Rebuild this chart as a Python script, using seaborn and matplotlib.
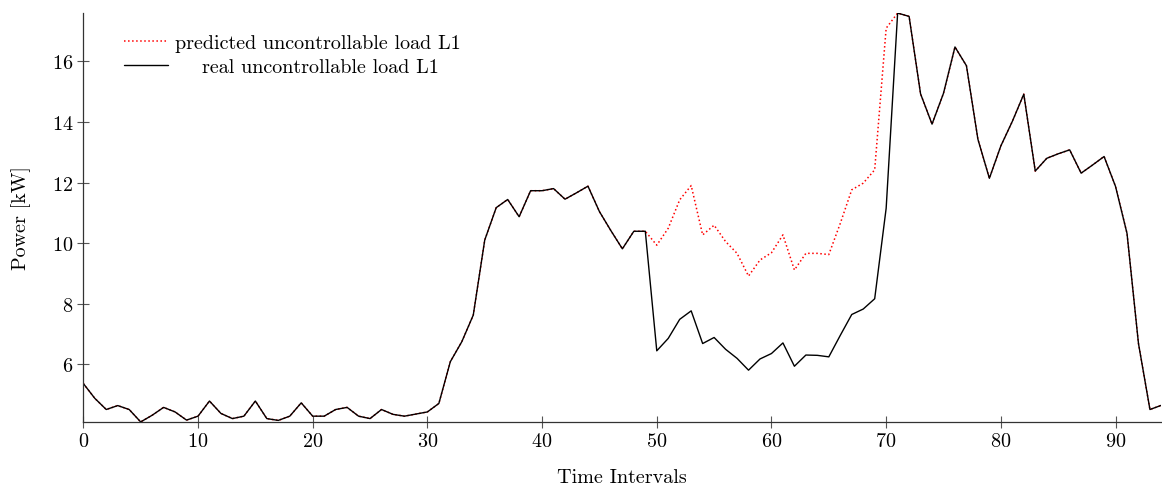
import numpy as np
import pandas as pd
import matplotlib
matplotlib.use("Agg")
import matplotlib.pyplot as plt
import seaborn as sns

intervals = list(range(95))

real_load = [
    5.36, 4.87, 4.50, 4.63, 4.50, 4.09, 4.31, 4.57, 4.42, 4.15,
    4.28, 4.78, 4.37, 4.20, 4.28, 4.78, 4.20, 4.14, 4.28, 4.72,
    4.28, 4.28, 4.50, 4.57, 4.28, 4.20, 4.50, 4.34, 4.28, 4.35,
    4.42, 4.70, 6.08, 6.74, 7.62, 10.10, 11.17, 11.44, 10.87, 11.73,
    11.73, 11.80, 11.45, 11.66, 11.88, 11.04, 10.41, 9.81, 10.39, 10.39,
    6.44, 6.85, 7.48, 7.76, 6.68, 6.88, 6.49, 6.19, 5.80, 6.17,
    6.35, 6.70, 5.93, 6.30, 6.29, 6.24, 6.95, 7.64, 7.82, 8.16,
    11.15, 17.60, 17.49, 14.93, 13.93, 14.95, 16.48, 15.86, 13.43, 12.14,
    13.21, 14.02, 14.92, 12.38, 12.80, 12.95, 13.08, 12.31, 12.58, 12.86,
    11.87, 10.32, 6.68, 4.50, 4.64,
]

predicted_load = [
    5.36, 4.87, 4.50, 4.63, 4.50, 4.09, 4.31, 4.57, 4.42, 4.15,
    4.28, 4.78, 4.37, 4.20, 4.28, 4.78, 4.20, 4.14, 4.28, 4.72,
    4.28, 4.28, 4.50, 4.57, 4.28, 4.20, 4.50, 4.34, 4.28, 4.35,
    4.42, 4.70, 6.08, 6.74, 7.62, 10.10, 11.17, 11.44, 10.87, 11.73,
    11.73, 11.80, 11.45, 11.66, 11.88, 11.04, 10.41, 9.81, 10.39, 10.39,
    9.93, 10.49, 11.43, 11.90, 10.27, 10.59, 10.05, 9.66, 8.91, 9.44,
    9.68, 10.27, 9.11, 9.66, 9.66, 9.62, 10.65, 11.76, 11.98, 12.42,
    17.10, 17.60, 17.49, 14.93, 13.93, 14.95, 16.48, 15.86, 13.43, 12.14,
    13.21, 14.02, 14.92, 12.38, 12.80, 12.95, 13.08, 12.31, 12.58, 12.86,
    11.87, 10.32, 6.68, 4.50, 4.64,
]

x_ticks = [0, 10, 20, 30, 40, 50, 60, 70, 80, 90]
y_ticks = [6, 8, 10, 12, 14, 16]

sns.set_style("ticks")
plt.rcParams["font.family"] = ["cmr10", "DejaVu Serif"]
plt.rcParams["axes.formatter.use_mathtext"] = True
plt.rcParams["mathtext.fontset"] = "cm"
plt.rcParams["text.color"] = "black"
plt.rcParams["axes.labelcolor"] = "black"
plt.rcParams["xtick.labelcolor"] = "black"
plt.rcParams["ytick.labelcolor"] = "black"

FS = 14.5

fig = plt.figure(figsize=(11.62, 4.85), dpi=100)
ax = fig.add_axes([0.0717, 0.128, 0.9278, 0.843])

df = pd.DataFrame({"t": intervals, "real": real_load, "pred": predicted_load})

sns.lineplot(data=df, x="t", y="pred", ax=ax, color="red", linestyle=":",
             linewidth=1.1, label="predicted uncontrollable load L1")
sns.lineplot(data=df, x="t", y="real", ax=ax, color="black", linestyle="-",
             linewidth=1.0, label="    real uncontrollable load L1")

ax.set_xlim(intervals[0], intervals[-1])
ax.set_ylim(min(real_load + predicted_load), max(real_load + predicted_load))
ax.set_xticks(x_ticks)
ax.set_yticks(y_ticks)
ax.set_xlabel("Time Intervals", fontsize=FS, labelpad=13)
ax.set_ylabel("Power [kW]", fontsize=FS, labelpad=15)
ax.tick_params(axis="both", direction="inout", length=8.5, width=0.8,
               color="#555555", labelsize=FS, pad=3)
for side in ["top", "right"]:
    ax.spines[side].set_visible(False)
for side in ["left", "bottom"]:
    ax.spines[side].set_color("#333333")
    ax.spines[side].set_linewidth(0.9)

leg = ax.legend(loc="upper left", frameon=False, fontsize=FS,
                bbox_to_anchor=(0.021, 0.993), handlelength=2.2,
                handletextpad=0.33, labelspacing=0.3)

fig.savefig("out.png", dpi=100)
